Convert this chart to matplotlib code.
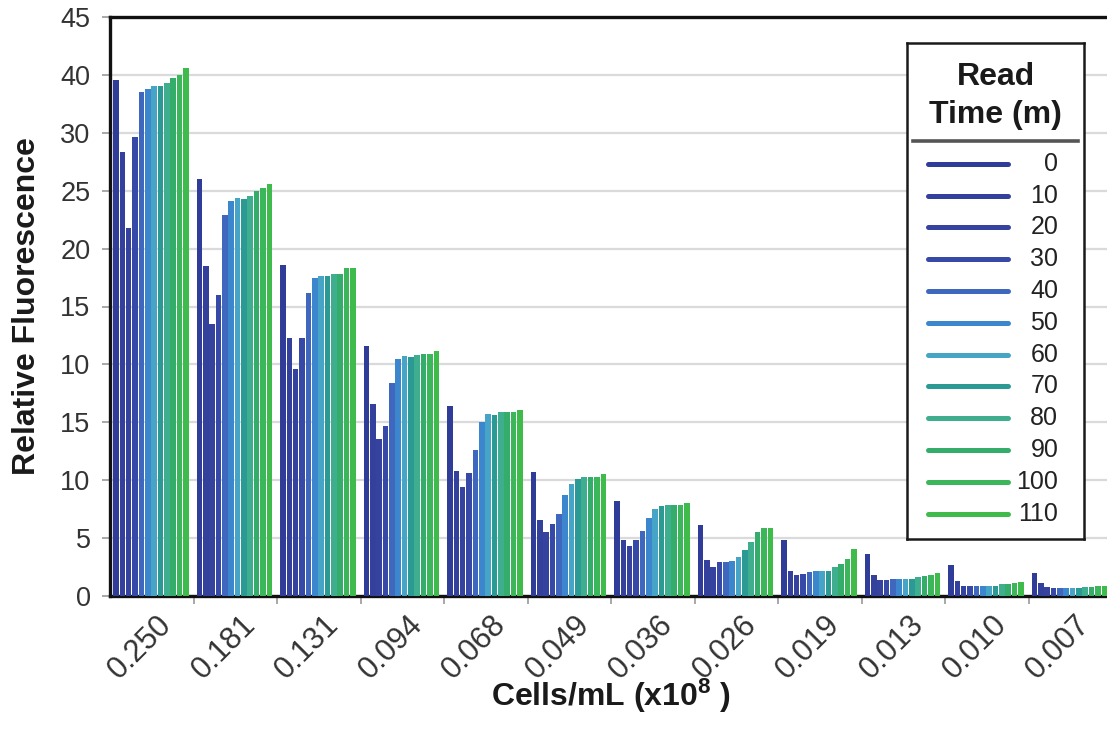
import numpy as np
import matplotlib.pyplot as plt
from matplotlib.transforms import ScaledTranslation

plt.rcParams['font.family'] = ['Liberation Sans', 'DejaVu Sans']
plt.rcParams['mathtext.default'] = 'regular'

# cell concentrations (x10^8 cells/mL), one group of bars each
concentrations = ['0.250', '0.181', '0.131', '0.094', '0.068', '0.049',
                  '0.036', '0.026', '0.019', '0.013', '0.010', '0.007']

# read times in minutes, one bar per read time inside each group
read_times = [0, 10, 20, 30, 40, 50, 60, 70, 80, 90, 100, 110]
time_colors = ['#303d98', '#33419d', '#35439f', '#3649a6', '#3f67bd', '#3b86cc',
               '#46a5c6', '#2c9a94', '#3fae8e', '#34ad6a', '#3cb65b', '#3fbb4b']

# y axis as printed on the original scale
y_positions = [0, 5, 10, 15, 20, 25, 30, 35, 40, 45, 50]
y_labels = ['0', '5', '10', '15', '10', '15', '20', '25', '30', '40', '45']

# fluorescence per read time, expressed on the axis scale above
fl_0250 = [44.6, 38.3, 31.8, 39.6, 43.5, 43.8, 44.0, 44.0, 44.3, 44.7, 45.0, 45.6]
fl_0181 = [36.0, 28.5, 23.5, 26.0, 32.9, 34.1, 34.4, 34.3, 34.5, 35.0, 35.2, 35.6]
fl_0131 = [28.6, 22.3, 19.6, 22.3, 26.2, 27.5, 27.6, 27.6, 27.8, 27.8, 28.3, 28.3]
fl_0094 = [21.6, 16.6, 13.6, 14.7, 18.4, 20.5, 20.7, 20.6, 20.8, 20.9, 20.9, 21.2]
fl_0068 = [16.4, 10.8, 9.4, 10.6, 12.6, 15.0, 15.7, 15.6, 15.9, 15.9, 15.9, 16.1]
fl_0049 = [10.7, 6.6, 5.5, 6.2, 7.1, 8.7, 9.7, 10.1, 10.3, 10.3, 10.3, 10.5]
fl_0036 = [8.2, 4.8, 4.3, 4.8, 5.6, 6.7, 7.5, 7.8, 7.9, 7.9, 7.9, 8.0]
fl_0026 = [6.1, 3.1, 2.5, 2.9, 2.9, 3.0, 3.4, 4.0, 4.7, 5.5, 5.9, 5.9]
fl_0019 = [4.8, 2.2, 1.8, 1.9, 2.1, 2.2, 2.2, 2.2, 2.5, 2.8, 3.2, 4.1]
fl_0013 = [3.6, 1.8, 1.4, 1.4, 1.5, 1.5, 1.5, 1.5, 1.6, 1.7, 1.8, 2.0]
fl_0010 = [2.7, 1.3, 0.9, 0.9, 0.9, 0.9, 0.9, 0.9, 1.0, 1.0, 1.1, 1.2]
fl_0007 = [2.0, 1.1, 0.8, 0.7, 0.7, 0.7, 0.7, 0.7, 0.8, 0.8, 0.9, 0.9]

fluor = np.array([fl_0250, fl_0181, fl_0131, fl_0094, fl_0068, fl_0049,
                  fl_0036, fl_0026, fl_0019, fl_0013, fl_0010, fl_0007])

fig = plt.figure(figsize=(11.07, 7.40), dpi=100)
ax = fig.add_axes([110 / 1107, 1 - 596 / 740, 1002 / 1107, 579 / 740])

n_groups = len(concentrations)
n_times = len(read_times)
slot = 0.076
group_x = np.arange(n_groups)

for j in range(n_times):
    xs = group_x + (j - (n_times - 1) / 2) * slot - 0.01
    ax.bar(xs, fluor[:, j], width=slot * 0.88, color=time_colors[j],
           linewidth=0, zorder=3)

ax.set_xlim(-0.5, n_groups - 0.5)
ax.set_ylim(0, 50)

# y axis
ax.set_yticks(y_positions)
ax.set_yticklabels(y_labels)
ax.yaxis.grid(True, color='#dadada', linewidth=1.6, zorder=0)
ax.tick_params(axis='y', direction='out', length=6, width=1.2, color='#9a9a9a',
               pad=8, labelsize=19.5, labelcolor='#333333')

# x axis: labels at group centres, small ticks between groups
ax.set_xticks(group_x)
ax.set_xticklabels(concentrations, rotation=45, ha='right', va='top',
                   rotation_mode='anchor')
ax.set_xticks(np.arange(n_groups - 1) + 0.5, minor=True)
ax.tick_params(axis='x', which='major', length=0, pad=10, labelsize=22,
               labelcolor='#333333')
ax.tick_params(axis='x', which='minor', direction='out', length=6, width=1.2,
               color='#9a9a9a')
shift = ScaledTranslation(0.05, 0, fig.dpi_scale_trans)
for lbl in ax.get_xticklabels():
    lbl.set_transform(lbl.get_transform() + shift)

for side in ['left', 'top', 'bottom']:
    ax.spines[side].set_linewidth(2.4)
    ax.spines[side].set_color('#111111')
ax.spines['right'].set_visible(False)

ax.set_ylabel('Relative Fluorescence', fontsize=23, fontweight='bold',
              color='#1a1a1a')
ax.yaxis.set_label_coords(-0.068, 0.5)
ax.set_xlabel('Cells/mL (x10$^{8}$ )', fontsize=23, fontweight='bold',
              color='#1a1a1a')
ax.xaxis.set_label_coords(0.5, -0.14)

# legend box with read times
lax = fig.add_axes([907 / 1107, 1 - 539 / 740, 177 / 1107, 496 / 740])
lax.set_xlim(0, 1)
lax.set_ylim(11.8, -3.8)
lax.set_xticks([])
lax.set_yticks([])
lax.patch.set_facecolor('white')
for sp in lax.spines.values():
    sp.set_linewidth(1.8)
    sp.set_color('#1a1a1a')
lax.text(0.5, -2.12, 'Read\nTime (m)', ha='center', va='center', fontsize=23,
         fontweight='bold', color='#1a1a1a', linespacing=1.35)
lax.plot([0.035, 0.965], [-0.72, -0.72], color='#555555', linewidth=2.6)
for i, (t, c) in enumerate(zip(read_times, time_colors)):
    lax.plot([0.12, 0.57], [i, i], color=c, linewidth=3.6,
             solid_capstyle='round')
    lax.text(0.855, i, str(t), ha='right', va='center', fontsize=18,
             color='#222222')

fig.savefig('out.png', dpi=100)
